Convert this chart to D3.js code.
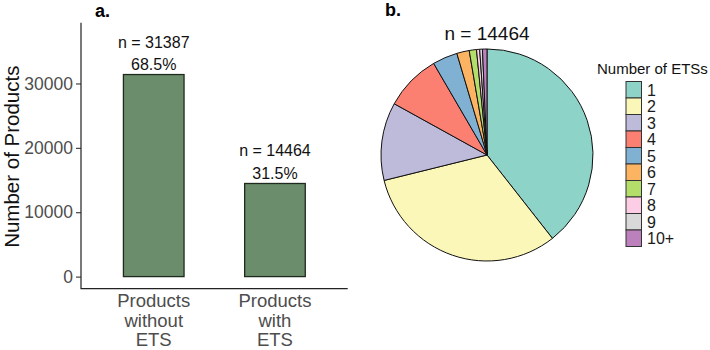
<!DOCTYPE html>
<html>
<head>
<meta charset="utf-8">
<script src="https://cdn.jsdelivr.net/npm/d3@7"></script>
<style>
  body { margin: 0; background: #fff; }
  svg { font-family: "Liberation Sans", Arial, sans-serif; }
</style>
</head>
<body>
<div id="chart"></div>
<script>
// panel a: products with / without ETS
const barCategories = [["Products", "without", "ETS"], ["Products", "with", "ETS"]];
const barValues = [31387, 14464];
const barPercents = ["68.5%", "31.5%"];
const yTicks = [0, 10000, 20000, 30000];

// panel b: number of ETSs per product (n = 14464)
const etsLabels = ["1", "2", "3", "4", "5", "6", "7", "8", "9", "10+"];
const etsCounts = [5700, 4590, 1720, 1240, 550, 275, 160, 70, 60, 99];
const etsColours = ["#8dd3c7", "#fbf7b9", "#bebada", "#fb8072", "#80b1d3",
                    "#fdb462", "#b3de69", "#fccde5", "#d9d9d9", "#bc80bd"];

const svg = d3.select("#chart").append("svg")
    .attr("width", 710)
    .attr("height", 350);

// ---- bar chart ----
const plot = {left: 81, right: 347.7, top: 22.7, bottom: 288.7};

// ggplot-style discrete axis: 0.6 units of padding on each side
const step = (plot.right - plot.left) / (barValues.length - 1 + 1.2);
const x = d3.scalePoint()
    .domain(d3.range(barValues.length))
    .range([plot.left + 0.6 * step, plot.right - 0.6 * step]);

const y = d3.scaleLinear()
    .domain([-1880, 39440])
    .range([plot.bottom, plot.top]);

const barW = 0.5 * step;

svg.append("g")
    .selectAll("rect")
    .data(barValues)
    .join("rect")
    .attr("x", (d, i) => x(i) - barW / 2)
    .attr("y", d => y(d))
    .attr("width", barW)
    .attr("height", d => y(0) - y(d))
    .attr("fill", "#6b8d6b")
    .attr("stroke", "#1f2a1f")
    .attr("stroke-width", 1.3);

// labels above bars
const barLabels = svg.append("g")
    .attr("font-size", 16)
    .attr("fill", "#111")
    .attr("text-anchor", "middle");
barLabels.selectAll(".pct")
    .data(barValues)
    .join("text")
    .attr("class", "pct")
    .attr("x", (d, i) => x(i))
    .attr("y", d => y(d) - 4.5)
    .text((d, i) => barPercents[i]);
barLabels.selectAll(".n")
    .data(barValues)
    .join("text")
    .attr("class", "n")
    .attr("x", (d, i) => x(i))
    .attr("y", d => y(d) - 27)
    .text(d => `n = ${d}`);

// y axis
const yAxis = svg.append("g")
    .attr("transform", `translate(${plot.left},0)`)
    .call(d3.axisLeft(y).tickValues(yTicks).tickSize(5).tickPadding(3).tickFormat(d3.format("d")));
yAxis.select(".domain").remove();
yAxis.selectAll(".tick line").attr("stroke", "#333").attr("stroke-width", 1.1);
yAxis.selectAll(".tick text")
    .attr("font-size", 17.5)
    .attr("font-family", "Liberation Sans, Arial, sans-serif")
    .attr("fill", "#4d4d4d");

// axis lines
svg.append("path")
    .attr("d", `M${plot.left},${plot.top}V${plot.bottom}H${plot.right}`)
    .attr("fill", "none")
    .attr("stroke", "#222")
    .attr("stroke-width", 1.2);

// x labels (multi-line)
svg.append("g")
    .selectAll("text")
    .data(barCategories)
    .join("text")
    .attr("x", (d, i) => x(i))
    .attr("y", plot.bottom + 18.5)
    .attr("text-anchor", "middle")
    .attr("font-size", 18.5)
    .attr("fill", "#4d4d4d")
    .selectAll("tspan")
    .data(d => d)
    .join("tspan")
    .attr("x", function() { return this.parentNode.getAttribute("x"); })
    .attr("dy", (d, i) => i === 0 ? 0 : 19.6)
    .text(d => d);

// y title
svg.append("text")
    .attr("transform", `translate(18.5,${(plot.top + plot.bottom) / 2 + 1}) rotate(-90)`)
    .attr("text-anchor", "middle")
    .attr("font-size", 20.5)
    .attr("fill", "#111")
    .text("Number of Products");

svg.append("text")
    .attr("x", 95)
    .attr("y", 17)
    .attr("font-size", 18)
    .attr("font-weight", "bold")
    .text("a.");

// ---- pie chart ----
const cx = 487, cy = 155, r = 106;

const pie = d3.pie().sort(null).value(d => d);
const arc = d3.arc().innerRadius(0).outerRadius(r);

svg.append("g")
    .attr("transform", `translate(${cx},${cy})`)
    .selectAll("path")
    .data(pie(etsCounts))
    .join("path")
    .attr("d", arc)
    .attr("fill", (d, i) => etsColours[i])
    .attr("stroke", "#111")
    .attr("stroke-width", 1);

svg.append("text")
    .attr("x", 385)
    .attr("y", 16)
    .attr("font-size", 18)
    .attr("font-weight", "bold")
    .text("b.");

svg.append("text")
    .attr("x", cx)
    .attr("y", 40)
    .attr("text-anchor", "middle")
    .attr("font-size", 19)
    .attr("fill", "#111")
    .text(`n = ${d3.sum(etsCounts)}`);

// legend
const legend = svg.append("g").attr("transform", "translate(626,81.5)");
legend.append("text")
    .attr("x", -29)
    .attr("y", -8)
    .attr("font-size", 15)
    .attr("fill", "#111")
    .text("Number of ETSs");

const keyH = 16.5;
const keys = legend.selectAll(".key")
    .data(etsLabels)
    .join("g")
    .attr("class", "key")
    .attr("transform", (d, i) => `translate(0,${i * keyH})`);
keys.append("rect")
    .attr("width", 15.5)
    .attr("height", keyH)
    .attr("fill", (d, i) => etsColours[i])
    .attr("stroke", "#333")
    .attr("stroke-width", 1);
keys.append("text")
    .attr("x", 21)
    .attr("y", keyH / 2 + 5.8)
    .attr("font-size", 16)
    .attr("fill", "#1a1a1a")
    .text(d => d);
</script>
</body>
</html>
